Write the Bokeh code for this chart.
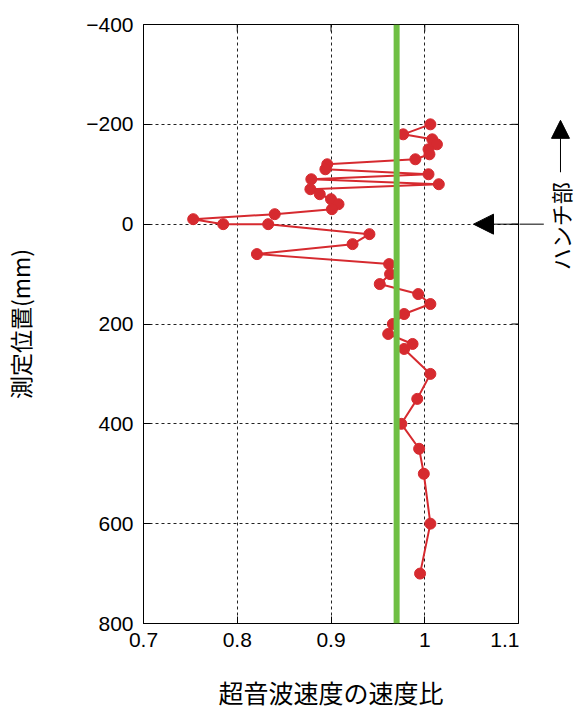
import math
from bokeh.plotting import figure
from bokeh.layouts import row
from bokeh.models import Range1d, FixedTicker, Span, Arrow, NormalHead, Label
from bokeh.embed import file_html
from bokeh.resources import INLINE

# ---- data ----
speed_ratio = [1.006, 0.977, 1.008, 1.013, 1.004, 1.005, 0.990, 0.896, 0.894, 1.004,
               0.879, 1.015, 0.878, 0.888, 0.900, 0.908, 0.901, 0.840, 0.753, 0.785,
               0.833, 0.941, 0.923, 0.821, 0.962, 0.963, 0.952, 0.993, 1.006, 0.978,
               0.966, 0.961, 0.987, 0.978, 1.006, 0.992, 0.975, 0.994, 0.999, 1.006,
               0.995]
position_mm = [-200, -180, -170, -160, -150, -140, -130, -120, -110, -100,
               -90, -80, -70, -60, -50, -40, -30, -20, -10, 0,
               0, 20, 40, 60, 80, 100, 120, 140, 160, 180,
               200, 220, 240, 250, 300, 350, 400, 450, 500, 600,
               700]
reference_ratio = 0.97

x_min, x_max = 0.7, 1.1
y_min, y_max = -400, 800
x_ticks = [0.7, 0.8, 0.9, 1.0, 1.1]
x_tick_labels = ["0.7", "0.8", "0.9", "1", "1.1"]
y_ticks = [-400, -200, 0, 200, 400, 600, 800]
y_tick_labels = ["\u2212400", "\u2212200", "0", "200", "400", "600", "800"]

x_title = "超音波速度の速度比"
y_title = "測定位置(mm)"
haunch_label = "ハンチ部"
haunch_position = 0  # start of the haunch (mm)

RED = "#d62a2f"
GREEN = "#6fbf44"
NUM_FONT = "Liberation Sans"
JP_FONT = "Noto Sans CJK JP"

H = 714
TOP, BOTTOM = 24, 91
yr = Range1d(y_max, y_min)

# ---------------- main chart ----------------
p = figure(width=519, height=H,
           x_range=Range1d(x_min, x_max), y_range=yr,
           output_backend="svg", toolbar_location=None,
           min_border_left=143, min_border_right=1,
           min_border_top=TOP, min_border_bottom=BOTTOM)
p.background_fill_color = "white"
p.border_fill_color = "white"
p.outline_line_color = "black"
p.outline_line_width = 1

p.xgrid.ticker = FixedTicker(ticks=x_ticks)
p.ygrid.ticker = FixedTicker(ticks=y_ticks)
for g in (p.xgrid, p.ygrid):
    g.grid_line_color = "#222222"
    g.grid_line_dash = "3 3"
    g.grid_line_width = 1

xa = p.xaxis[0]
xa.ticker = FixedTicker(ticks=x_ticks)
xa.major_label_overrides = dict(zip(x_ticks, x_tick_labels))
ya = p.yaxis[0]
ya.ticker = FixedTicker(ticks=y_ticks)
ya.major_label_overrides = dict(zip(y_ticks, y_tick_labels))
for ax in (xa, ya):
    ax.major_tick_in = 7
    ax.major_tick_out = 0
    ax.minor_tick_line_color = None
    ax.axis_line_color = "black"
    ax.major_tick_line_color = "black"
    ax.major_label_text_font = NUM_FONT
    ax.major_label_text_font_size = "21px"
    ax.major_label_text_color = "black"
    ax.axis_label_text_font = JP_FONT
    ax.axis_label_text_font_style = "normal"
    ax.axis_label_text_color = "black"
xa.major_label_standoff = 9
xa.axis_label = x_title
xa.axis_label_text_font_size = "25px"
xa.axis_label_standoff = 24
ya.major_label_standoff = 10
ya.axis_label = y_title
ya.axis_label_text_font_size = "23px"
ya.axis_label_standoff = 46

# inward ticks on the top and right edges of the box
inner_x = x_ticks[1:-1]
inner_y = y_ticks[1:-1]
p.ray(x=[x_max] * len(inner_y), y=inner_y, length=7, length_units="screen",
      angle=math.pi, line_color="black", line_width=1)
p.ray(x=inner_x, y=[y_min] * len(inner_x), length=7, length_units="screen",
      angle=-math.pi / 2, line_color="black", line_width=1)

# data
p.line(speed_ratio, position_mm, line_color=RED, line_width=2)
p.scatter(speed_ratio, position_mm, size=11, fill_color=RED, line_color=RED)

# reference line
p.add_layout(Span(location=reference_ratio, dimension="height",
                  line_color=GREEN, line_width=6))

# haunch arrow (part inside the box)
ARROW_START_X = 1.127
p.add_layout(Arrow(x_start=ARROW_START_X, y_start=haunch_position,
                   x_end=1.052, y_end=haunch_position,
                   line_color="black", line_width=1,
                   end=NormalHead(size=20, fill_color="black", line_color="black")))

# ---------------- side strip for the haunch annotation ----------------
side = figure(width=57, height=H,
              x_range=Range1d(1.10107, 1.16187), y_range=yr,
              output_backend="svg", toolbar_location=None,
              x_axis_location=None, y_axis_location=None,
              min_border_left=0, min_border_right=0,
              min_border_top=TOP, min_border_bottom=BOTTOM)
side.grid.visible = False
side.outline_line_color = None
side.background_fill_color = "white"
side.border_fill_color = "white"

side.segment(x0=[x_max], y0=[haunch_position], x1=[ARROW_START_X], y1=[haunch_position],
             line_color="black", line_width=1)
ANNOT_X = 1.1448
side.add_layout(Arrow(x_start=ANNOT_X, y_start=-104, x_end=ANNOT_X, y_end=-208,
                      line_color="black", line_width=1,
                      end=NormalHead(size=18, fill_color="black", line_color="black")))
side.add_layout(Label(x=ANNOT_X, y=4, text=haunch_label, angle=90, angle_units="deg",
                      text_align="center", text_baseline="middle",
                      text_font=JP_FONT, text_font_size="22px", text_color="black"))

layout = row(p, side)
open("out.html", "w").write(file_html(layout, INLINE))
